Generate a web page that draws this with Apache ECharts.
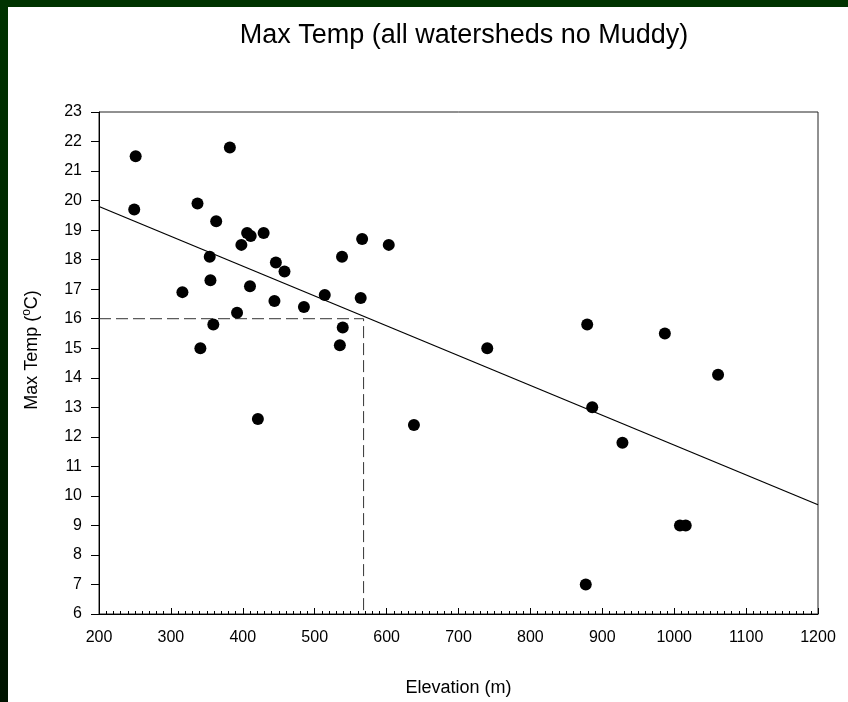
<!DOCTYPE html>
<html>
<head>
<meta charset="utf-8">
<script src="https://cdn.jsdelivr.net/npm/echarts@6/dist/echarts.min.js"></script>
<style>
  html, body { margin: 0; padding: 0; background: #ffffff; }
  #chart { width: 848px; height: 702px; }
</style>
</head>
<body>
<div id="chart"></div>
<script>
// Site elevation (m) and maximum stream temperature (°C)
const elevation = [251, 249, 382, 337, 363, 406, 411, 429, 398, 354, 446, 458, 538, 566, 603,
                   316, 355, 410, 444, 485, 514, 564, 392, 359, 341, 539, 535, 421, 740, 879,
                   886, 638, 987, 1061, 928, 1008, 1016, 877];
const maxTemp   = [21.5, 19.7, 21.8, 19.9, 19.3, 18.9, 18.8, 18.9, 18.5, 18.1, 17.9, 17.6, 18.1, 18.7, 18.5,
                   16.9, 17.3, 17.1, 16.6, 16.4, 16.8, 16.7, 16.2, 15.8, 15.0, 15.7, 15.1, 12.6, 15.0, 15.8,
                   13.0, 12.4, 15.5, 14.1, 11.8, 9.0, 9.0, 7.0];

// Fitted line end points
const fitX = [200, 1200];
const fitY = [19.8, 9.7];

// Reading guide: 16 °C at the fitted line
const guideX = [200, 568, 568];
const guideY = [16, 16, 6];

const xTicks = [200, 1200, 100];   // min, max, step
const yTicks = [6, 23, 1];

const FONT = '"Liberation Sans", Arial, sans-serif';

const zip = (a, b) => a.map((v, i) => [v, b[i]]);

const chart = echarts.init(document.getElementById('chart'), null, { renderer: 'canvas' });

chart.setOption({
  backgroundColor: '#ffffff',
  animation: false,
  title: {
    text: 'Max Temp (all watersheds no Muddy)',
    left: 459,
    textAlign: 'center',
    top: 17,
    textStyle: { fontFamily: FONT, fontSize: 27, fontWeight: 'normal', color: '#000' }
  },
  graphic: [
    { type: 'rect', left: 0, top: 0, z: 100,
      shape: { width: 848, height: 7 }, style: { fill: '#003300' } },
    { type: 'rect', left: 0, top: 0, z: 100,
      shape: { width: 8, height: 702 },
      style: { fill: new echarts.graphic.LinearGradient(0, 0, 0, 1, [
        { offset: 0, color: '#003300' }, { offset: 1, color: '#001400' }]) } }
  ],
  grid: {
    left: 99, right: 30, top: 112, bottom: 84,
    show: true, borderColor: '#222', borderWidth: 1, backgroundColor: 'transparent'
  },
  xAxis: {
    type: 'value',
    min: xTicks[0], max: xTicks[1], interval: xTicks[2],
    name: 'Elevation (m)',
    nameLocation: 'middle',
    nameGap: 65,
    nameTextStyle: { fontFamily: FONT, fontSize: 18, color: '#000' },
    axisLine: { lineStyle: { color: '#000', width: 1 } },
    axisTick: { inside: true, length: 6, lineStyle: { color: '#000' } },
    minorTick: { show: true, splitNumber: 10, length: 3, lineStyle: { color: '#000' } },
    axisLabel: { fontFamily: FONT, fontSize: 16, color: '#000', margin: 16,
                 formatter: v => String(v) },
    splitLine: { show: false }
  },
  yAxis: {
    type: 'value',
    min: yTicks[0], max: yTicks[1], interval: yTicks[2],
    name: '{a|Max Temp (}{s|o}{a|C)}',
    nameLocation: 'middle',
    nameGap: 56,
    nameRotate: 90,
    nameTextStyle: {
      fontFamily: FONT, color: '#000',
      padding: [0, 0, 0, 26],
      rich: {
        a: { fontFamily: FONT, fontSize: 18, lineHeight: 22, color: '#000' },
        s: { fontFamily: FONT, fontSize: 12, lineHeight: 12, color: '#000', verticalAlign: 'top' }
      }
    },
    axisLine: { lineStyle: { color: '#000', width: 1 } },
    axisTick: { inside: false, length: 8, lineStyle: { color: '#000' } },
    axisLabel: { fontFamily: FONT, fontSize: 16, color: '#000', margin: 17,
                 formatter: v => String(v) },
    splitLine: { show: false }
  },
  series: [
    {
      type: 'line',
      data: zip(guideX, guideY),
      symbol: 'none',
      lineStyle: { color: '#333', width: 1, type: [12, 5] },
      z: 1
    },
    {
      type: 'line',
      data: zip(fitX, fitY),
      symbol: 'none',
      lineStyle: { color: '#000', width: 1.3 },
      z: 2
    },
    {
      type: 'scatter',
      data: zip(elevation, maxTemp),
      symbol: 'circle',
      symbolSize: 12,
      itemStyle: { color: '#000', opacity: 1 },
      z: 3
    }
  ]
});
</script>
</body>
</html>
